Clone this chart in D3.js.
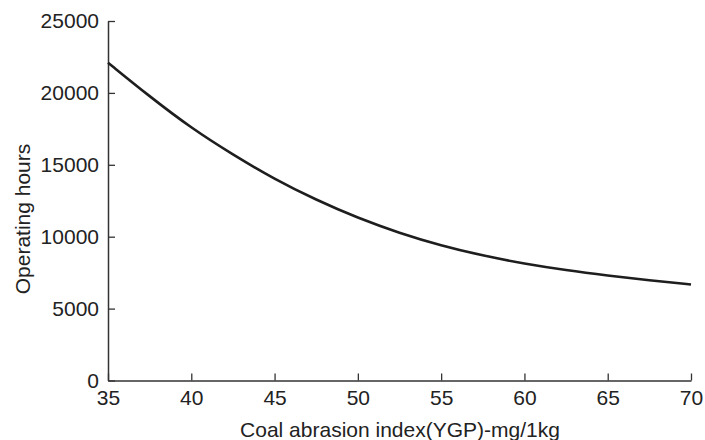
<!DOCTYPE html>
<html><head><meta charset="utf-8">
<script src="https://cdn.jsdelivr.net/npm/d3@7"></script>
<style>body{margin:0;background:#fff}svg{display:block}text{font-family:"Liberation Sans",Arial,sans-serif}</style>
</head><body>
<svg id="c" width="705" height="440"></svg>
<script>
const xValues = [35, 37.5, 40, 42.5, 45, 47.5, 50, 52.5, 55, 57.5, 60, 62.5, 65, 67.5, 70];
const hours   = [22100, 19750, 17550, 15700, 14000, 12550, 11300, 10250, 9380, 8680, 8120, 7670, 7300, 6970, 6680];
const xTicks = [35, 40, 45, 50, 55, 60, 65, 70];
const yTicks = [0, 5000, 10000, 15000, 20000, 25000];
const xTitle = "Coal abrasion index(YGP)-mg/1kg";
const yTitle = "Operating hours";

const svg = d3.select("#c");
const x = d3.scaleLinear().domain([35, 70]).range([108, 691]);
const y = d3.scaleLinear().domain([0, 25000]).range([380.5, 21]);

const gx = svg.append("g").attr("transform", `translate(0,${y(0)})`)
  .call(d3.axisBottom(x).tickValues(xTicks).tickSizeInner(-7).tickSizeOuter(0).tickPadding(10).tickFormat(d3.format("d")));
const gy = svg.append("g").attr("transform", `translate(${x(35)},0)`)
  .call(d3.axisLeft(y).tickValues(yTicks).tickSizeInner(-7).tickSizeOuter(0).tickPadding(9).tickFormat(d3.format("d")));
[gx, gy].forEach(g => {
  g.select(".domain").attr("stroke", "#333").attr("stroke-width", 1.5);
  g.selectAll(".tick line").attr("stroke", "#333").attr("stroke-width", 1.3);
  g.selectAll(".tick text").attr("font-size", 21).attr("fill", "#222")
   .style("font-family", '"Liberation Sans", Arial, sans-serif');
});

const line = d3.line().x((d, i) => x(xValues[i])).y(d => y(d)).curve(d3.curveBasis);
svg.append("path").datum(hours).attr("d", line)
  .attr("fill", "none").attr("stroke", "#1e1e1e").attr("stroke-width", 2.6);

svg.append("text").attr("x", 400).attr("y", 437).attr("text-anchor", "middle")
  .attr("font-size", 21).attr("fill", "#222").text(xTitle);
svg.append("text").attr("transform", "translate(30,219) rotate(-90)").attr("text-anchor", "middle")
  .attr("font-size", 21).attr("fill", "#222").text(yTitle);
</script>
</body></html>
